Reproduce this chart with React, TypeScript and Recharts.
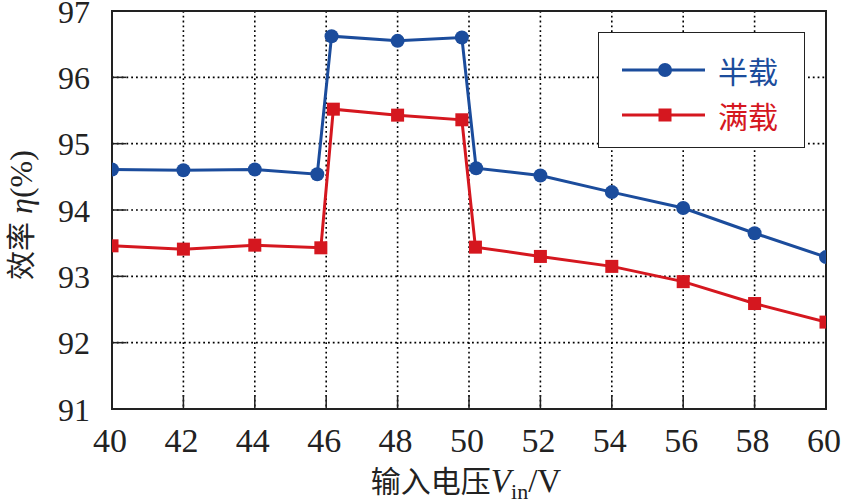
import React from "react";
import {
  LineChart,
  Line,
  XAxis,
  YAxis,
  CartesianGrid,
  Legend,
  ReferenceArea,
} from "recharts";

// 输入电压 (V) — the step near 46 V / 50 V is measured slightly off-grid
const halfLoadVin = [40, 42, 44, 45.75, 46.15, 48, 49.8, 50.2, 52, 54, 56, 58, 60];
const halfLoadEta = [94.61, 94.6, 94.61, 94.54, 96.62, 96.55, 96.6, 94.63, 94.52, 94.27, 94.03, 93.65, 93.29];

const fullLoadVin = [40, 42, 44, 45.85, 46.2, 48, 49.8, 50.18, 52, 54, 56, 58, 60];
const fullLoadEta = [93.46, 93.41, 93.47, 93.43, 95.52, 95.43, 95.36, 93.44, 93.3, 93.15, 92.92, 92.59, 92.31];

const xTicks = [40, 42, 44, 46, 48, 50, 52, 54, 56, 58, 60];
const yTicks = [91, 92, 93, 94, 95, 96, 97];

const BLUE = "#1b4c9c";
const RED = "#d5171f";
const SERIF = "'Liberation Serif', 'Times New Roman', serif";
const CJK = "'Noto Sans CJK SC', sans-serif";

const PLOT_LEFT = 112;
const PLOT_BOTTOM = 409;
const TICK_LEN = 14;

const halfData = halfLoadVin.map((v, i) => ({ vin: v, eta: halfLoadEta[i] }));
const fullData = fullLoadVin.map((v, i) => ({ vin: v, eta: fullLoadEta[i] }));

const YTick = (props: any) => {
  const { y, payload } = props;
  return (
    <g>
      <line x1={PLOT_LEFT} x2={PLOT_LEFT + TICK_LEN} y1={y} y2={y} stroke="#222" strokeWidth={1.5} />
      <text x={90} y={y + 11.5} textAnchor="end" fontFamily={SERIF} fontSize={32} fill="#222">
        {payload.value}
      </text>
    </g>
  );
};

const XTick = (props: any) => {
  const { x, payload } = props;
  return (
    <g>
      <line x1={x} x2={x} y1={PLOT_BOTTOM} y2={PLOT_BOTTOM - TICK_LEN} stroke="#222" strokeWidth={1.5} />
      <text x={x - 2} y={452} textAnchor="middle" fontFamily={SERIF} fontSize={34} fill="#222">
        {payload.value}
      </text>
    </g>
  );
};

const SquareDot = (props: any) => {
  const { cx, cy, index } = props;
  return <rect key={`sq-${index}`} x={cx - 6.5} y={cy - 6.5} width={13} height={13} fill={RED} />;
};

const LegendBox = (props: any) => {
  const { payload } = props;
  return (
    <div
      style={{
        width: 207,
        height: 116,
        border: "1.5px solid #222",
        background: "#fff",
        boxSizing: "border-box",
        position: "relative",
      }}
    >
      {(payload || []).map((item: any, i: number) => {
        const color = item.color;
        const top = i === 0 ? 20 : 65;
        return (
          <div key={item.value} style={{ position: "absolute", left: 0, top, height: 34, display: "flex", alignItems: "center" }}>
            <svg width={110} height={34} style={{ marginLeft: 20 }}>
              <line x1={3} x2={86} y1={17} y2={17} stroke={color} strokeWidth={3} />
              {i === 0 ? (
                <circle cx={46} cy={17} r={7} fill={color} />
              ) : (
                <rect x={39.5} y={10.5} width={13} height={13} fill={color} />
              )}
            </svg>
            <span style={{ fontFamily: CJK, fontSize: 30, color, marginLeft: -11, lineHeight: "34px" }}>
              {item.value}
            </span>
          </div>
        );
      })}
    </div>
  );
};

const XLabel = () => (
  <text x={466} y={492} textAnchor="middle" fontSize={33} fill="#222" fontFamily={SERIF}>
    <tspan fontFamily={CJK} fontSize={30}>输入电压</tspan>
    <tspan fontStyle="italic">V</tspan>
    <tspan fontSize={22} dy={7}>in</tspan>
    <tspan dy={-7}>/V</tspan>
  </text>
);

const YLabel = () => (
  <text
    x={32}
    y={215}
    transform="rotate(-90, 32, 215)"
    textAnchor="middle"
    fontSize={32}
    fill="#222"
    fontFamily={SERIF}
  >
    <tspan fontFamily={CJK} fontSize={29}>效率</tspan>
    <tspan fontStyle="italic" dx={8}>η</tspan>
    <tspan>(%)</tspan>
  </text>
);

export default function App() {
  return (
    <div style={{ position: "absolute", left: 0, top: 0, background: "#fff" }}>
      <LineChart width={842} height={504} margin={{ top: 11, right: 16, bottom: 0, left: 0 }}>
        <CartesianGrid stroke="#000" strokeWidth={1.6} strokeDasharray="1.8 3" />
        <XAxis
          type="number"
          dataKey="vin"
          domain={[40, 60]}
          ticks={xTicks}
          height={95}
          axisLine={{ stroke: "#222", strokeWidth: 2 }}
          tickLine={false}
          tick={<XTick />}
          allowDataOverflow
          label={{ content: () => <XLabel /> }}
        />
        <YAxis
          type="number"
          domain={[91, 97]}
          ticks={yTicks}
          width={112}
          axisLine={{ stroke: "#222", strokeWidth: 2 }}
          tickLine={false}
          tick={<YTick />}
          allowDataOverflow
          label={{ content: () => <YLabel /> }}
        />
        <ReferenceArea x1={40} x2={60} y1={91} y2={97} fill="none" fillOpacity={0} stroke="#222" strokeWidth={2} ifOverflow="visible" />
        <Legend
          layout="horizontal"
          verticalAlign="middle"
          align="center"
          content={<LegendBox />}
          wrapperStyle={{ left: 598, top: 32, width: 207, height: 116 }}
        />
        <Line
          data={halfData}
          dataKey="eta"
          name="半载"
          stroke={BLUE}
          strokeWidth={3}
          dot={{ r: 7, fill: BLUE, stroke: BLUE, strokeWidth: 0 }}
          activeDot={false}
          isAnimationActive={false}
        />
        <Line
          data={fullData}
          dataKey="eta"
          name="满载"
          stroke={RED}
          strokeWidth={3}
          dot={<SquareDot />}
          activeDot={false}
          isAnimationActive={false}
        />
      </LineChart>
    </div>
  );
}
